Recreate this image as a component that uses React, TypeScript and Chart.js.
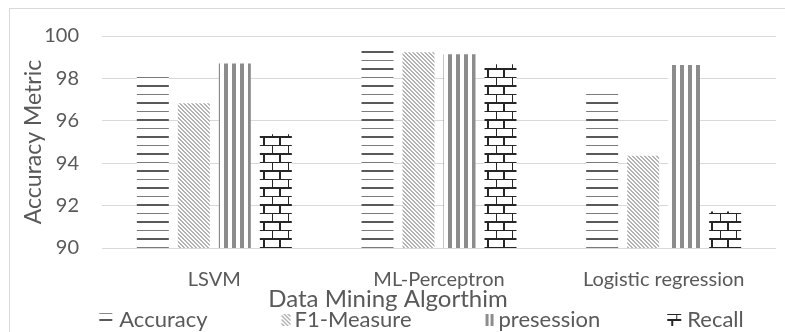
import React, { useEffect, useRef } from "react";
import { Chart, registerables } from "chart.js";

Chart.register(...registerables);

// ---------- data ----------
const categories = ["LSVM", "ML-Perceptron", "Logistic regression"];
const seriesNames = ["Accuracy", "F1-Measure", "presession", "Recall"];
const accuracy = [98.16, 99.37, 97.41];
const f1Measure = [96.83, 99.23, 94.35];
const presession = [98.7, 99.14, 98.63];
const recall = [95.37, 98.67, 91.72];
const yMin = 90;
const yMax = 100;
const yStep = 2;
const xTitle = "Data Mining Algorthim";
const yTitle = "Accuracy Metric";

const FONT = "Lato, 'Open Sans', sans-serif";
const TEXT = "#595959";
const GRID = "#d9d9d9";

function tile(w: number, h: number, draw: (g: CanvasRenderingContext2D) => void, bg = "#ffffff") {
  const c = document.createElement("canvas");
  c.width = w;
  c.height = h;
  const g = c.getContext("2d")!;
  if (bg) {
    g.fillStyle = bg;
    g.fillRect(0, 0, w, h);
  }
  draw(g);
  return c;
}

const drawHLines = (g: CanvasRenderingContext2D, w: number) => {
  g.fillStyle = "#595959";
  g.fillRect(0, 0, w, 2);
  g.fillStyle = "#7a7a7a";
  g.fillRect(0, 9, w, 1);
};
const drawDiag = (g: CanvasRenderingContext2D, w: number, h: number) => {
  g.fillStyle = "#b2b2b2";
  for (let y = 0; y < h; y++) {
    for (let x = 0; x < w; x++) {
      if ((((x - y) % 4) + 4) % 4 < 2) g.fillRect(x, y, 1, 1);
    }
  }
};
const drawVLines = (g: CanvasRenderingContext2D, h: number) => {
  g.fillStyle = "#8c8c8c";
  g.fillRect(0, 0, 4, h);
};
const drawBrick = (g: CanvasRenderingContext2D) => {
  g.fillStyle = "#262626";
  g.fillRect(0, 0, 16, 2);
  g.fillRect(7, 2, 2, 7);
  g.fillRect(0, 9, 16, 1);
  g.fillRect(0, 10, 1, 7);
};

export default function App() {
  const ref = useRef<HTMLCanvasElement>(null);

  useEffect(() => {
    const canvas = ref.current!;
    const ctx = canvas.getContext("2d")!;

    const pAcc = ctx.createPattern(tile(8, 17, (g) => drawHLines(g, 8)), "repeat")!;
    const pF1 = ctx.createPattern(tile(8, 8, (g) => drawDiag(g, 8, 8)), "repeat")!;
    const pPre = ctx.createPattern(tile(8, 4, (g) => drawVLines(g, 4)), "repeat")!;
    const pRec = ctx.createPattern(tile(16, 17, (g) => drawBrick(g)), "repeat")!;

    const LEG_FONT = 22;
    const W = 76; // legend box width (controls item spacing)
    const IW = W + 40; // marker image width, centred on the box
    const IH = 16;
    const textCol = W + 20 + LEG_FONT / 2; // text start column inside the image
    const mk = (mw: number, gap: number, draw: (g: CanvasRenderingContext2D, x0: number) => void) =>
      tile(IW, IH, (g) => draw(g, textCol - gap - mw), "");
    const markers = [
      mk(13, 7, (g, x0) => {
        g.fillStyle = "#8a8a8a";
        g.fillRect(x0, 1, 13, 1);
        g.fillStyle = "#595959";
        g.fillRect(x0, 7, 13, 2);
      }),
      mk(9, 4, (g, x0) => {
        g.fillStyle = "#b2b2b2";
        for (let y = 2; y < 14; y++)
          for (let x = 0; x < 9; x++) if ((((x - y) % 4) + 4) % 4 < 2) g.fillRect(x0 + x, y, 1, 1);
      }),
      mk(8, 5, (g, x0) => {
        g.fillStyle = "#8c8c8c";
        g.fillRect(x0, 2, 3, 12);
        g.fillRect(x0 + 5, 2, 3, 12);
      }),
      mk(14, 6, (g, x0) => {
        g.fillStyle = "#262626";
        g.fillRect(x0, 2, 14, 1);
        g.fillRect(x0 + 9, 2, 1, 5);
        g.fillRect(x0, 7, 14, 2);
        g.fillRect(x0 + 4, 9, 2, 5);
      }),
    ];

    const framePlugin = {
      id: "frame",
      beforeDraw(chart: any) {
        const c = chart.ctx;
        c.save();
        c.fillStyle = "#ffffff";
        c.fillRect(0, 0, chart.width, chart.height);
        c.strokeStyle = GRID;
        c.lineWidth = 1;
        c.strokeRect(9.5, 8.5, 800, 400);
        c.restore();
      },
    };

    const patterns = [pAcc, pF1, pPre, pRec];
    const values = [accuracy, f1Measure, presession, recall];

    const chart = new Chart(ctx, {
      type: "bar",
      data: {
        labels: categories,
        datasets: seriesNames.map((name, i) => ({
          label: name,
          data: values[i],
          backgroundColor: patterns[i] as any,
          borderWidth: 0,
          barPercentage: 0.78,
          categoryPercentage: 0.73,
        })),
      },
      options: {
        animation: false,
        responsive: false,
        maintainAspectRatio: false,
        layout: { padding: { left: 0, right: 9, top: 36, bottom: 0 } },
        plugins: {
          tooltip: { enabled: false },
          title: {
            display: true,
            position: "bottom",
            text: xTitle,
            color: TEXT,
            font: { family: FONT, size: 24, weight: "normal", lineHeight: 1 },
            padding: { top: -5, bottom: -2 },
            weight: 500,
            fullSize: true,
          } as any,
          legend: {
            position: "bottom",
            align: "center",
            labels: {
              usePointStyle: true,
              pointStyleWidth: W,
              padding: 0,
              color: TEXT,
              font: { family: FONT, size: LEG_FONT },
              generateLabels: () =>
                seriesNames.map((name, i) => ({
                  text: name,
                  fillStyle: "transparent",
                  strokeStyle: "transparent",
                  lineWidth: 0,
                  pointStyle: markers[i] as any,
                  hidden: false,
                  datasetIndex: i,
                  fontColor: TEXT,
                })),
            },
          },
        },
        scales: {
          x: {
            grid: { display: false, drawTicks: false },
            border: { display: false },
            ticks: { color: TEXT, font: { family: FONT, size: 20 }, padding: 20, maxRotation: 0 },
            afterFit: (s: any) => {
              s.height = 44;
            },
          },
          y: {
            min: yMin,
            max: yMax,
            ticks: { stepSize: yStep, color: TEXT, font: { family: FONT, size: 20 }, padding: 23 },
            grid: { color: GRID, lineWidth: 1, drawTicks: false },
            border: { display: false },
            title: {
              display: true,
              text: yTitle,
              color: TEXT,
              font: { family: FONT, size: 23 },
              padding: { top: 20, bottom: 0 },
            },
            afterFit: (s: any) => {
              s.width = 102;
            },
          },
        },
      },
      plugins: [framePlugin],
    });

    return () => chart.destroy();
  }, []);

  return (
    <div
      style={{
        position: "fixed",
        left: 0,
        top: 0,
        width: 785,
        height: 332,
        overflow: "hidden",
        background: "#fff",
      }}
    >
      <canvas ref={ref} width={785} height={341} style={{ display: "block", width: 785, height: 341 }} />
    </div>
  );
}
